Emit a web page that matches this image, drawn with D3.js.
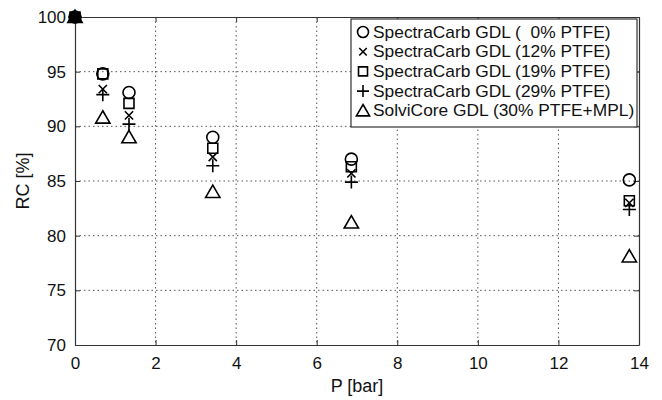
<!DOCTYPE html>
<html>
<head>
<meta charset="utf-8">
<script src="https://cdn.jsdelivr.net/npm/d3@7"></script>
<style>
  body { margin: 0; background: #fff; }
  svg { display: block; font-family: "Liberation Sans", Arial, sans-serif; }
</style>
</head>
<body>
<svg id="chart"></svg>
<script>
// pressure values [bar]
const pressures = [0, 0.69, 1.34, 3.42, 6.86, 13.76];

// RC [%] per GDL
const rc0 = [100, 94.8, 93.1, 89.0, 87.0, 85.1];
const rc12 = [100, 93.4, 91.0, 87.2, 85.7, 83.0];
const rc19 = [100, 94.8, 92.1, 88.0, 86.3, 83.2];
const rc29 = [100, 92.9, 90.2, 86.4, 84.9, 82.4];
const rcSolvi = [100, 90.8, 89.0, 84.0, 81.2, 78.1];

const seriesNames = [
  "SpectraCarb GDL (\u00a0\u00a00% PTFE)",
  "SpectraCarb GDL (12% PTFE)",
  "SpectraCarb GDL (19% PTFE)",
  "SpectraCarb GDL (29% PTFE)",
  "SolviCore GDL (30% PTFE+MPL)"
];
const seriesValues = [rc0, rc12, rc19, rc29, rcSolvi];
const seriesSymbols = ["circle", "cross", "square", "plus", "triangle"];

const xTicks = [0, 2, 4, 6, 8, 10, 12, 14];
const yTicks = [70, 75, 80, 85, 90, 95, 100];

const W = 662, H = 400;
const margin = { top: 17, right: 23, bottom: 55, left: 75 };
const width = W - margin.left - margin.right;
const height = H - margin.top - margin.bottom;

const svg = d3.select("#chart").attr("width", W).attr("height", H);
const g = svg.append("g").attr("transform", `translate(${margin.left},${margin.top})`);

const x = d3.scaleLinear().domain([0, 14]).range([0, width]);
const y = d3.scaleLinear().domain([70, 100]).range([height, 0]);

// grid
g.append("g").selectAll("line")
  .data(xTicks.slice(1, -1))
  .join("line")
  .attr("x1", d => x(d)).attr("x2", d => x(d))
  .attr("y1", 0).attr("y2", height)
  .attr("stroke", "#555").attr("stroke-width", 1).attr("stroke-dasharray", "1.5,3");

g.append("g").selectAll("line")
  .data(yTicks.slice(1, -1))
  .join("line")
  .attr("y1", d => y(d)).attr("y2", d => y(d))
  .attr("x1", 0).attr("x2", width)
  .attr("stroke", "#555").attr("stroke-width", 1).attr("stroke-dasharray", "1.5,3");

// axes, MATLAB style ticks inside on all sides
const tick = 5;
g.append("g").attr("transform", `translate(0,${height})`)
  .call(d3.axisBottom(x).tickValues(xTicks).tickSize(-tick).tickPadding(12).tickSizeOuter(0));
g.append("g")
  .call(d3.axisTop(x).tickValues(xTicks).tickSize(-tick).tickFormat("").tickSizeOuter(0));
g.append("g")
  .call(d3.axisLeft(y).tickValues(yTicks).tickSize(-tick).tickPadding(9).tickSizeOuter(0));
g.append("g").attr("transform", `translate(${width},0)`)
  .call(d3.axisRight(y).tickValues(yTicks).tickSize(-tick).tickFormat("").tickSizeOuter(0));

g.selectAll(".domain").attr("stroke", "#333").attr("stroke-width", 1.2);
g.selectAll(".tick line").attr("stroke", "#333");
g.selectAll(".tick text").attr("font-size", 17).attr("fill", "#111")
  .attr("font-family", "'Liberation Sans', Arial, sans-serif");

// axis labels
svg.append("text")
  .attr("x", margin.left + width / 2).attr("y", 392)
  .attr("text-anchor", "middle").attr("font-size", 18).attr("fill", "#111")
  .text("P [bar]");
svg.append("text")
  .attr("transform", `translate(29,${margin.top + height / 2}) rotate(-90)`)
  .attr("text-anchor", "middle").attr("font-size", 18).attr("fill", "#111")
  .text("RC [%]");

// marker shapes
function markerPath(type, s) {
  const h = s / 2;
  if (type === "circle") return d3.symbol(d3.symbolCircle, Math.PI * h * h)();
  if (type === "square") return `M${-h},${-h}H${h}V${h}H${-h}Z`;
  if (type === "plus") return `M${-h},0H${h}M0,${-h}V${h}`;
  if (type === "cross") { const c = h * 0.75; return `M${-c},${-c}L${c},${c}M${-c},${c}L${c},${-c}`; }
  if (type === "triangle") return `M0,${-h * 1.05}L${h * 1.1},${h * 0.85}L${-h * 1.1},${h * 0.85}Z`;
}
const markerSize = { circle: 12, square: 10, plus: 13, cross: 11, triangle: 13 };

seriesValues.forEach((vals, i) => {
  const sym = seriesSymbols[i];
  g.append("g").selectAll("path")
    .data(vals.map((v, j) => ({ p: pressures[j], v: v })))
    .join("path")
    .attr("transform", d => `translate(${x(d.p)},${y(d.v)})`)
    .attr("d", markerPath(sym, markerSize[sym]))
    .attr("fill", (d) => d.p === 0 ? "#000" : "none")
    .attr("stroke", "#000").attr("stroke-width", 1.6);
});

// legend
const legX = 351, legY = 19, legW = 286, legH = 108, rowH = 19.7;
const leg = svg.append("g");
leg.append("rect")
  .attr("x", legX).attr("y", legY).attr("width", legW).attr("height", legH)
  .attr("fill", "#fff").attr("stroke", "#333").attr("stroke-width", 1.2);
seriesNames.forEach((name, i) => {
  const cy = legY + 13 + i * rowH;
  const sym = seriesSymbols[i];
  leg.append("path")
    .attr("transform", `translate(${legX + 12},${cy})`)
    .attr("d", markerPath(sym, markerSize[sym] - 1))
    .attr("fill", "none").attr("stroke", "#000").attr("stroke-width", 1.6);
  leg.append("text")
    .attr("transform", `translate(${legX + 22},${cy + 5.5}) scale(1.085,1)`)
    .attr("font-size", 16).attr("fill", "#111")
    .text(name);
});
</script>
</body>
</html>
